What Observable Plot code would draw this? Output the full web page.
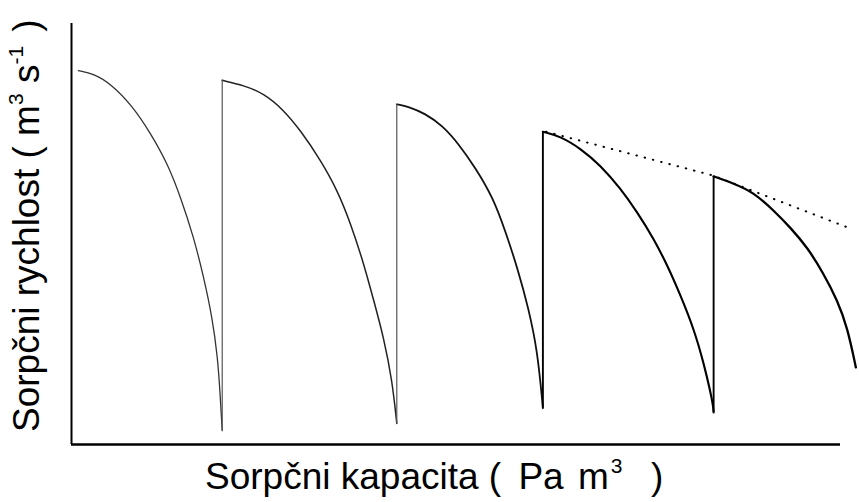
<!DOCTYPE html>
<html>
<head>
<meta charset="utf-8">
<script src="https://cdn.jsdelivr.net/npm/d3@7"></script>
<script src="https://cdn.jsdelivr.net/npm/@observablehq/plot@0.6"></script>
<style>
  html, body { margin: 0; padding: 0; background: #fff; }
  #chart svg { display: block; }
</style>
</head>
<body>
<div id="chart"></div>
<script>
// Sorption capacity (arbitrary units, 0–100 along the axis) and sorption rate (0–100)
const seg1X = [0.9, 2.9, 5.1, 7.9, 10.3, 12.5, 14.2, 15.9, 17.2, 18.3, 19.0, 19.3, 19.6];
const seg1Y = [88.8, 88.1, 85.7, 80.5, 73.9, 66.7, 58.7, 49.2, 39.7, 30.2, 20.7, 12.8, 3.3];
const seg2X = [19.6, 22.4, 25.0, 27.4, 29.8, 32.4, 34.6, 36.3, 38.0, 39.3, 40.6, 41.7, 42.3];
const seg2Y = [86.5, 85.3, 83.4, 79.8, 74.6, 67.5, 60.3, 52.5, 43.0, 34.2, 25.4, 15.2, 5.0];
const seg3X = [42.3, 43.8, 46.0, 48.2, 50.3, 52.5, 54.8, 56.4, 58.1, 59.4, 60.6, 61.3];
const seg3Y = [80.8, 80.3, 78.6, 75.8, 71.5, 65.8, 58.7, 50.8, 41.3, 32.5, 22.3, 8.6];
const seg4X = [61.3, 63.6, 66.2, 68.8, 71.4, 73.6, 75.7, 77.5, 79.2, 80.9, 82.2, 83.4, 83.5];
const seg4Y = [74.3, 73.2, 70.3, 66.3, 60.8, 55.1, 48.9, 42.5, 35.4, 27.6, 19.5, 10.0, 7.6];
const seg5X = [83.5, 86.1, 88.7, 91.3, 93.5, 95.7, 97.8, 99.6, 100.9, 102.0];
const seg5Y = [63.7, 62.0, 59.9, 55.6, 51.5, 46.8, 40.6, 34.2, 27.8, 18.3];

// Regeneration jumps (vertical rises) between cycles
const jumpX    = [19.6, 42.3, 61.3, 83.5];
const jumpLow  = [3.3, 5.0, 8.6, 7.6];
const jumpHigh = [86.5, 80.8, 74.3, 63.7];

// Dotted envelope through the cycle peaks
const envX = [61.7, 83.4, 101.3];
const envY = [74.3, 63.9, 51.3];

const yLabel = "Sorpčni rychlost ( m";

const segsX = [seg1X, seg2X, seg3X, seg4X, seg5X];
const segsY = [seg1Y, seg2Y, seg3Y, seg4Y, seg5Y];
const segWidth = [1.3, 1.5, 1.8, 2.1, 2.3];
const segStroke = ["#333", "#222", "#111", "#000", "#000"];

const segMarks = segsX.map((xs, i) =>
  Plot.line(xs.map((x, j) => ({x, y: segsY[i][j]})), {
    x: "x", y: "y", curve: "basis",
    stroke: segStroke[i], strokeWidth: segWidth[i]
  })
);
const jumps = jumpX.map((x, i) => ({x, y1: jumpLow[i], y2: jumpHigh[i], k: i}));
const envelope = envX.map((x, i) => ({x, y: envY[i]}));

const svg = Plot.plot({
  width: 859,
  height: 502,
  marginLeft: 71,
  marginRight: 19,
  marginTop: 23,
  marginBottom: 58,
  style: {background: "#fff"},
  x: {domain: [0, 100], axis: null},
  y: {domain: [0, 100], axis: null},
  marks: [
    Plot.ruleX([0], {stroke: "#000", strokeWidth: 2}),
    Plot.ruleY([0], {stroke: "#000", strokeWidth: 2.4}),
    ...segMarks,
    Plot.ruleX(jumps, {x: "x", y1: "y1", y2: "y2",
      stroke: d => d.k < 2 ? "#555" : "#000",
      strokeWidth: d => d.k < 2 ? 1.2 : 1.9}),
    Plot.line(envelope, {x: "x", y: "y", stroke: "#000", strokeWidth: 2,
      strokeDasharray: "0.5 8", strokeLinecap: "round"})
  ]
});

const s = d3.select(svg);
const font = "'Liberation Sans', Arial, Helvetica, sans-serif";

// x-axis title
const xt = s.append("text")
  .attr("x", 205).attr("y", 489)
  .attr("text-anchor", "start")
  .attr("font-family", font).attr("font-size", 37).attr("fill", "#000")
  .style("white-space", "pre");
xt.append("tspan").text("Sorpčni kapacita ( ");
xt.append("tspan").attr("dx", 7).text("Pa");
xt.append("tspan").attr("dx", 4).text(" m");
xt.append("tspan").attr("font-size", 21).attr("dy", -16).attr("dx", 2).text("3");
xt.append("tspan").attr("dy", 16).attr("dx", 8).text("  )");

// y-axis title
const yt = s.append("text")
  .attr("transform", "rotate(-90)")
  .attr("x", -432).attr("y", 39)
  .attr("text-anchor", "start")
  .attr("font-family", font).attr("font-size", 37).attr("fill", "#000")
  .style("white-space", "pre");
yt.append("tspan").text(yLabel);
yt.append("tspan").attr("font-size", 21).attr("dy", -16).text("3");
yt.append("tspan").attr("dy", 16).text(" s");
yt.append("tspan").attr("font-size", 21).attr("dy", -16).text("-1");
yt.append("tspan").attr("dy", 16).attr("dx", 4).text(" )");

document.getElementById("chart").append(svg);
</script>
</body>
</html>
